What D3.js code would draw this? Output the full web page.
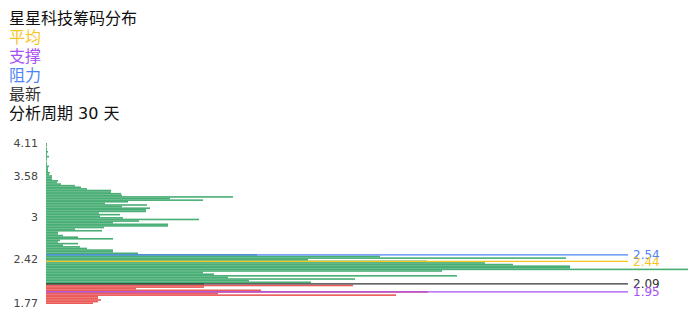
<!DOCTYPE html>
<html>
<head>
<meta charset="utf-8">
<script src="https://cdn.jsdelivr.net/npm/d3@7"></script>
<style>
  body { margin: 0; background: #fff; }
  svg text { font-family: "DejaVu Sans", "Noto Sans CJK SC", sans-serif; }
</style>
</head>
<body>
<div id="chart"></div>
<script>
// chip volume per price bin, top (high price) to bottom (low price)
var chips = [
  1, 1, 0.5, 1, 1, 2, 1, 1, 3, 1,
  1, 0.5, 1, 1, 3, 2, 2, 2, 4, 3,
  6, 6, 6, 12, 11, 15, 29, 35, 41, 65,
  65, 75, 76, 187, 124, 157, 82, 59, 101, 76,
  104, 100, 100, 53, 74, 54, 77, 153, 93, 67,
  122, 122, 58, 29, 56, 12, 12, 17, 32, 67,
  14, 12, 32, 17, 34, 41, 67, 67, 92, 211,
  334, 520, 262, 381, 439, 467, 524, 524, 642, 396,
  157, 168, 411, 182, 309, 203, 265, 158, 307, 158,
  90, 215, 382, 172, 350, 52, 52, 55, 52, 47
];
var latestIdx = 87;   // bins below this are in profit (red)

var tickIdx = [0, 20, 46, 72, 99];
var tickLabels = ["4.11", "3.58", "3", "2.42", "1.77"];

var levelNames = ["阻力", "平均", "最新", "支撑"];
var levelValues = [2.54, 2.44, 2.09, 1.95];
var levelIdx = [69, 73, 87, 92];
var levelColors = ["#4d84f5", "#f7c51e", "#333333", "#a64ff5"];

var legendLines = ["星星科技筹码分布", "平均", "支撑", "阻力", "最新", "分析周期 30 天"];
var legendColors = ["#111", "#f7c51e", "#a64ff5", "#4d84f5", "#333", "#111"];

var w = 696, h = 320;

var svg = d3.select("#chart")
  .append("svg")
  .attr("width", w)
  .attr("height", h);

var y = d3.scaleBand()
  .domain(d3.range(chips.length))
  .range([143, 304])
  .padding(0);

var x = d3.scaleLinear()
  .domain([0, d3.max(chips)])
  .range([46, 688]);

// bars
svg.append("g")
  .selectAll("rect")
  .data(chips)
  .enter()
  .append("rect")
  .attr("x", x(0))
  .attr("y", (d, i) => y(i))
  .attr("width", d => x(d) - x(0))
  .attr("height", y.bandwidth())
  .attr("fill", (d, i) => i > latestIdx ? "#e5322f" : "#1b9a52")
  .attr("fill-opacity", 0.8);

// y labels
var yAxis = d3.axisLeft(y)
  .tickValues(tickIdx)
  .tickFormat((d, i) => tickLabels[i])
  .tickSize(0)
  .tickPadding(0);

var gy = svg.append("g")
  .attr("transform", "translate(38,0)")
  .call(yAxis);
gy.select(".domain").remove();
gy.selectAll("text")
  .attr("fill", "#444")
  .style("font-size", "11px");

// level lines
var levels = svg.append("g")
  .selectAll("g")
  .data(levelValues)
  .enter()
  .append("g")
  .attr("transform", (d, i) => "translate(0," + (y(levelIdx[i]) + y.bandwidth() / 2) + ")");

levels.append("line")
  .attr("x1", x(0))
  .attr("x2", 628)
  .attr("stroke", (d, i) => levelColors[i])
  .attr("stroke-width", 1.3);

levels.append("text")
  .attr("x", 633)
  .attr("dy", "0.35em")
  .attr("fill", (d, i) => levelColors[i])
  .style("font-size", "12px")
  .text(d => d.toFixed(2));

// legend / title block
svg.append("g")
  .selectAll("text")
  .data(legendLines)
  .enter()
  .append("text")
  .attr("x", 9)
  .attr("y", (d, i) => 24 + i * 19)
  .attr("fill", (d, i) => legendColors[i])
  .style("font-size", "16px")
  .text(d => d);
</script>
</body>
</html>
